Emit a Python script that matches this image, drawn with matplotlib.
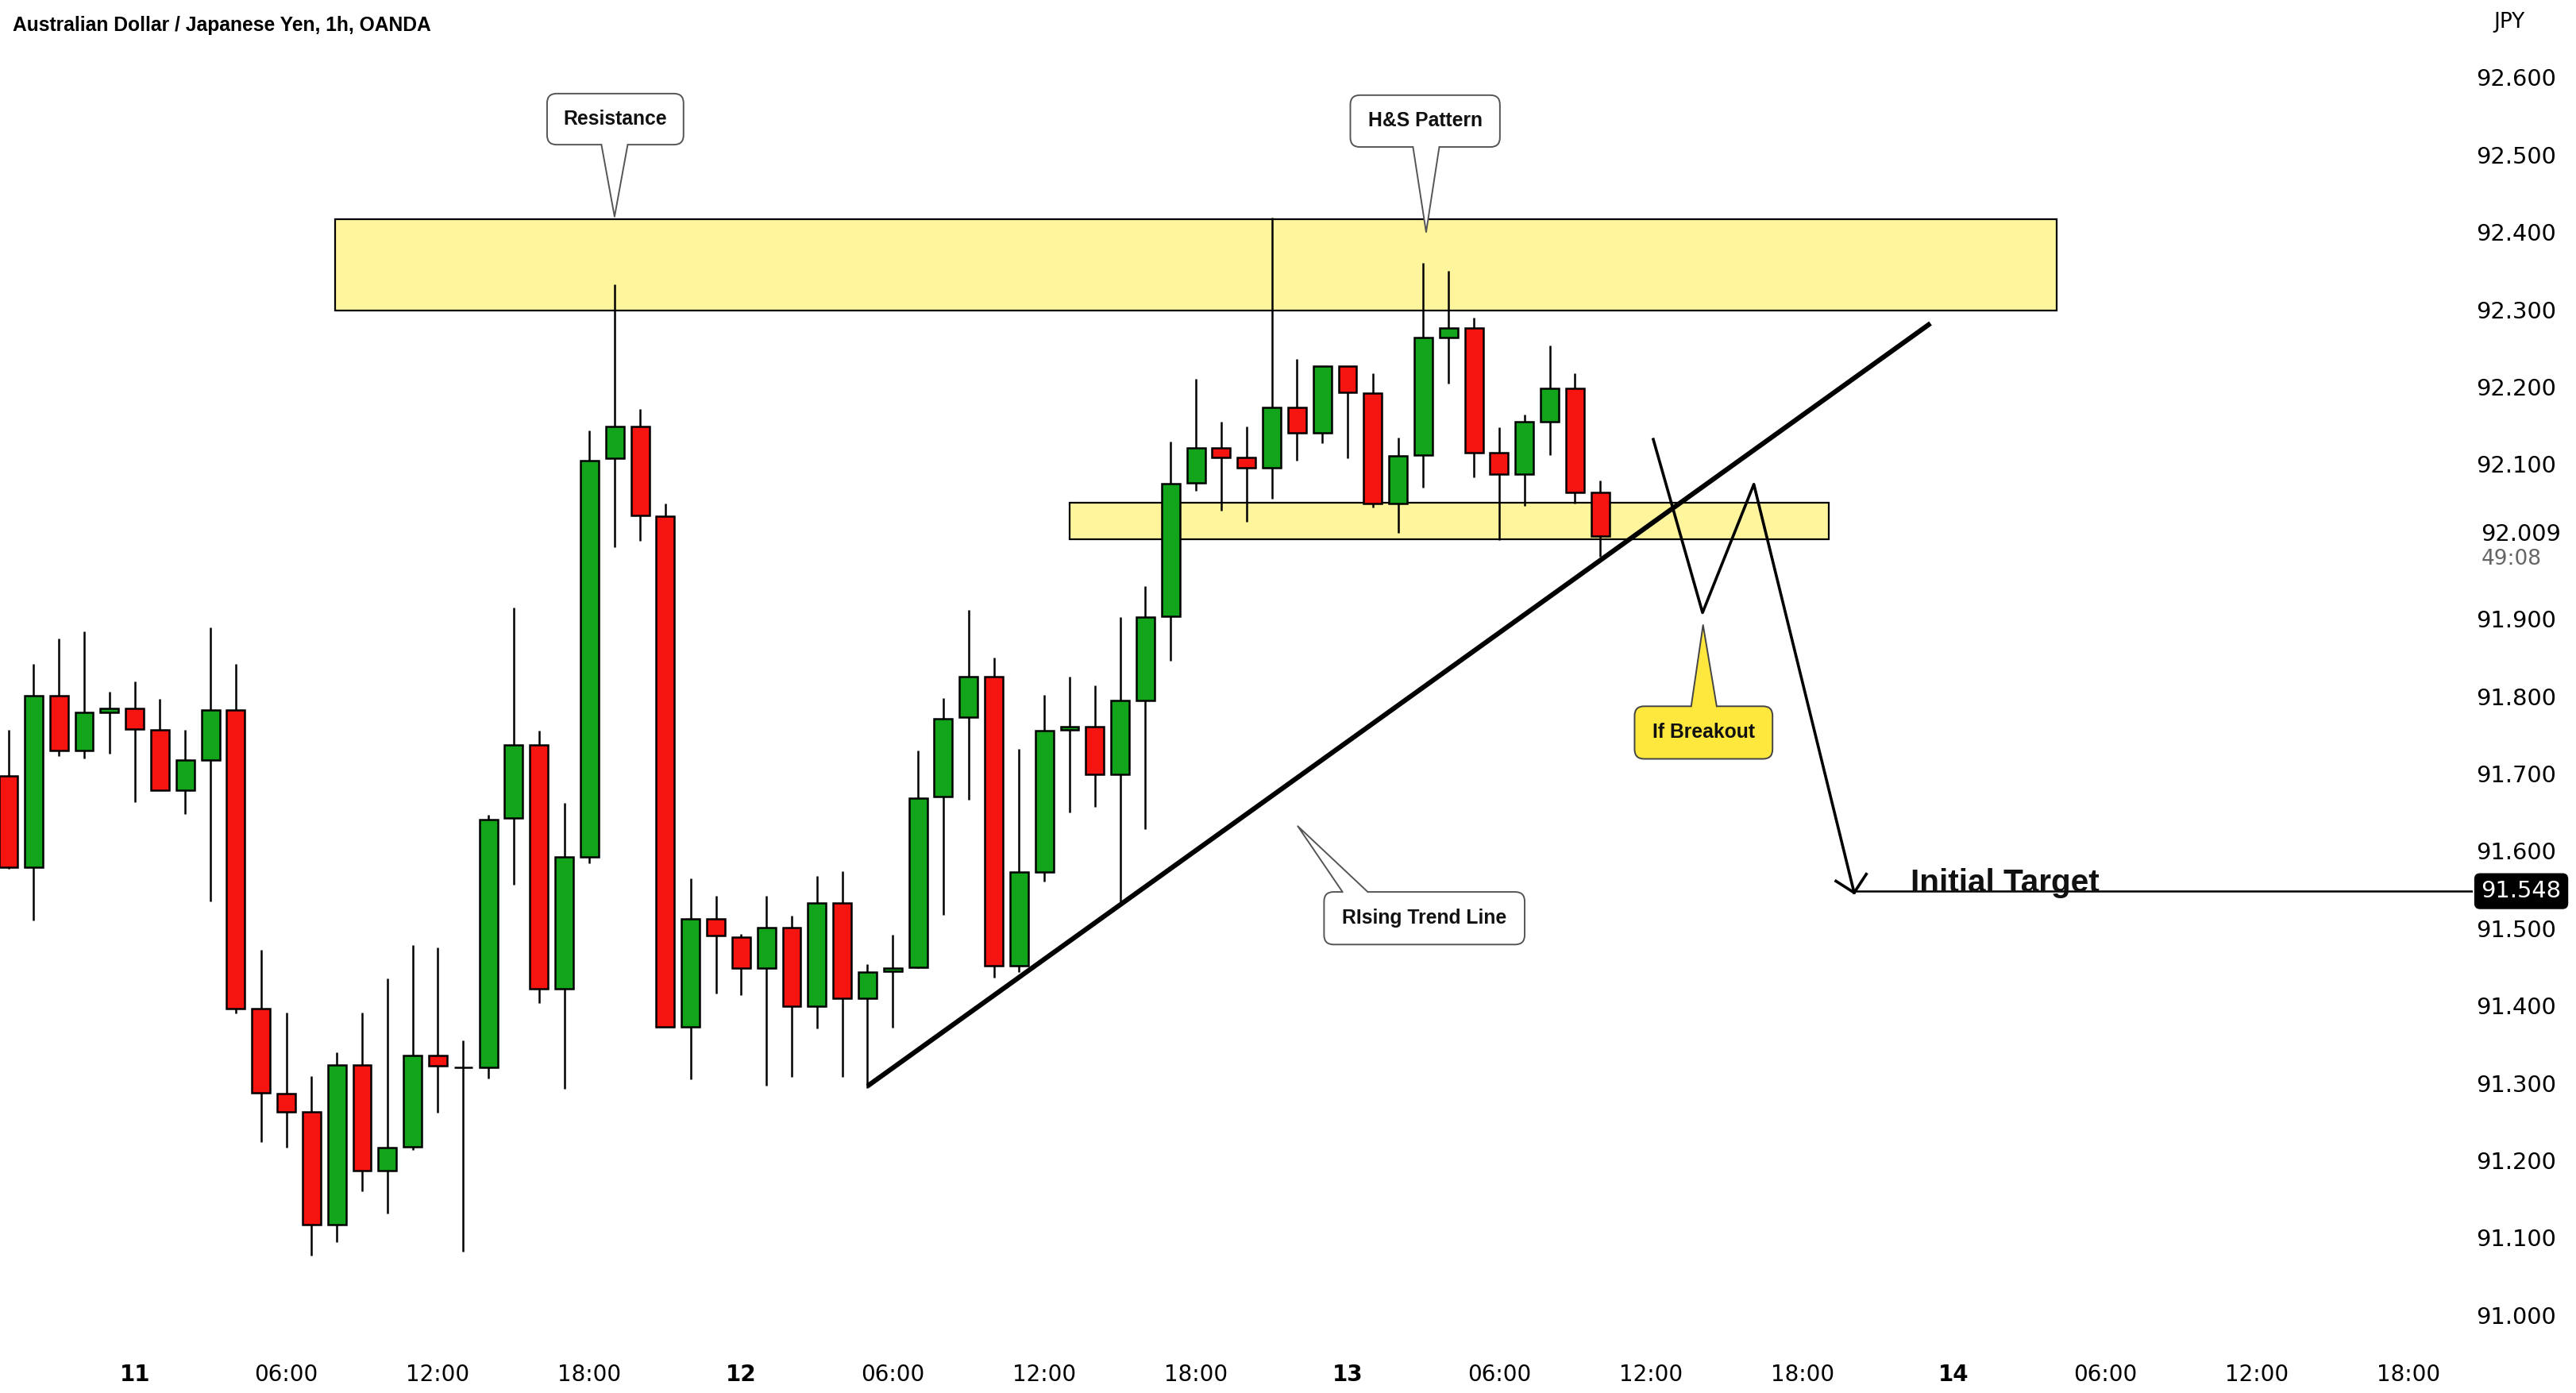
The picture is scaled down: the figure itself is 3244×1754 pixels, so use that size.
import matplotlib
matplotlib.use("Agg")
import matplotlib.pyplot as plt
from matplotlib.patches import Rectangle, FancyBboxPatch, Polygon
import numpy as np

# hourly candles, x = hours since day "11" 00:00
hours = list(range(-5, 59))
opens = [91.697, 91.579, 91.801, 91.730, 91.779, 91.784, 91.757, 91.678, 91.718, 91.782,
         91.396, 91.286, 91.263, 91.117, 91.323, 91.187, 91.218, 91.336, 91.320, 91.320,
         91.643, 91.737, 91.422, 91.592, 92.108, 92.149, 92.033, 91.373, 91.512, 91.489,
         91.448, 91.501, 91.399, 91.533, 91.409, 91.444, 91.450, 91.670, 91.773, 91.825,
         91.452, 91.573, 91.756, 91.761, 91.699, 91.795, 91.903, 92.076, 92.121, 92.109,
         92.095, 92.173, 92.140, 92.227, 92.192, 92.049, 92.112, 92.264, 92.276, 92.115,
         92.087, 92.155, 92.198, 92.063]
highs = [91.757, 91.842, 91.875, 91.884, 91.806, 91.819, 91.797, 91.756, 91.889, 91.842,
         91.472, 91.391, 91.309, 91.340, 91.391, 91.435, 91.478, 91.475, 91.355, 91.647,
         91.915, 91.755, 91.662, 92.144, 92.332, 92.171, 92.049, 91.565, 91.542, 91.493,
         91.542, 91.516, 91.568, 91.574, 91.454, 91.492, 91.730, 91.798, 91.912, 91.850,
         91.732, 91.802, 91.825, 91.814, 91.902, 91.942, 92.129, 92.210, 92.155, 92.149,
         92.419, 92.236, 92.227, 92.227, 92.217, 92.134, 92.360, 92.350, 92.289, 92.148,
         92.164, 92.253, 92.217, 92.079]
lows = [91.577, 91.510, 91.723, 91.720, 91.726, 91.663, 91.678, 91.648, 91.535, 91.390,
        91.224, 91.217, 91.077, 91.094, 91.160, 91.131, 91.213, 91.262, 91.082, 91.306,
        91.556, 91.403, 91.292, 91.584, 91.993, 92.001, 91.373, 91.305, 91.416, 91.414,
        91.297, 91.308, 91.370, 91.308, 91.294, 91.371, 91.449, 91.517, 91.666, 91.436,
        91.443, 91.560, 91.650, 91.657, 91.532, 91.628, 91.846, 92.066, 92.040, 92.025,
        92.055, 92.105, 92.127, 92.108, 92.044, 92.011, 92.070, 92.204, 92.083, 92.002,
        92.046, 92.112, 92.049, 91.980]
closes = [91.579, 91.801, 91.730, 91.779, 91.784, 91.758, 91.678, 91.717, 91.782, 91.396,
          91.287, 91.263, 91.117, 91.323, 91.187, 91.217, 91.336, 91.322, 91.320, 91.641,
          91.737, 91.422, 91.592, 92.105, 92.149, 92.034, 91.373, 91.512, 91.491, 91.448,
          91.501, 91.399, 91.533, 91.409, 91.443, 91.449, 91.668, 91.771, 91.825, 91.452,
          91.573, 91.755, 91.761, 91.699, 91.795, 91.902, 92.075, 92.121, 92.109, 92.095,
          92.173, 92.140, 92.227, 92.193, 92.049, 92.111, 92.264, 92.276, 92.115, 92.087,
          92.155, 92.198, 92.063, 92.007]

tick_hours = [0, 6, 12, 18, 24, 30, 36, 42, 48, 54, 60, 66, 72, 78, 84, 90]
tick_labels = ["11", "06:00", "12:00", "18:00", "12", "06:00", "12:00", "18:00",
               "13", "06:00", "12:00", "18:00", "14", "06:00", "12:00", "18:00"]
price_ticks = [91.0, 91.1, 91.2, 91.3, 91.4, 91.5, 91.6, 91.7, 91.8, 91.9,
               92.1, 92.2, 92.3, 92.4, 92.5, 92.6]

last_price = 92.009
target_price = 91.548

# drawings (hours, price)
resistance_zone = (7.93, 76.07, 92.299, 92.417)
neckline_zone = (37.0, 67.03, 92.003, 92.050)
trend_x = [29.0, 71.07]
trend_y = [91.296, 92.282]
path_x = [60.1, 62.05, 64.08, 68.05]
path_y = [92.132, 91.908, 92.074, 91.546]

GREEN = "#12A51B"
RED = "#F5140F"
ZONE = "#FFF59D"

W, H, DPI = 3244, 1754, 200
fig = plt.figure(figsize=(W / DPI, H / DPI), dpi=DPI, facecolor="white")
ax = fig.add_axes([0, 0.0354, 0.9598, 0.9646])
ax.set_xlim(-5.332, 92.52)
ax.set_ylim(90.963, 92.700)
for s in ax.spines.values():
    s.set_visible(False)

# zones
for x0, x1, y0, y1 in [resistance_zone, neckline_zone]:
    ax.add_patch(Rectangle((x0, y0), x1 - x0, y1 - y0, facecolor=ZONE,
                           edgecolor="black", linewidth=0.8, zorder=1))

# candles
o = np.array(opens)
c = np.array(closes)
colors = np.where(c >= o, GREEN, RED)
ax.vlines(hours, lows, highs, color="black", linewidth=0.9, zorder=3)
ax.bar(hours, np.abs(c - o), bottom=np.minimum(o, c), width=0.72, color=colors,
       edgecolor="black", linewidth=0.9, zorder=4)

# trend line and projected path
ax.plot(trend_x, trend_y, color="black", linewidth=2.2, solid_capstyle="butt", zorder=5)
ax.plot(path_x, path_y, color="black", linewidth=1.3, zorder=5)
ax.plot([67.33, path_x[-1], 68.53], [91.561, path_y[-1], 91.570], color="black",
        linewidth=1.3, zorder=5)
ax.plot([path_x[-1], 92.52], [target_price, target_price], color="black",
        linewidth=0.9, zorder=5)
ax.text(70.29, 91.547, "Initial Target", fontsize=14.6, fontweight="bold",
        family="Liberation Sans", color="#111111", va="baseline", zorder=6)

# callouts
p0 = ax.transData.transform((0, 0))
p1 = ax.transData.transform((1, 1))
px_x = p1[0] - p0[0]
px_y = p1[1] - p0[1]


def callout(box, text, base, tip, face, edge, side="bottom"):
    x0, x1, y0, y1 = box
    r = 12 / px_x
    ax.add_patch(FancyBboxPatch((x0, y0), x1 - x0, y1 - y0,
                                boxstyle=f"round,pad=0,rounding_size={r}",
                                mutation_aspect=px_x / px_y,
                                facecolor=face, edgecolor=edge, linewidth=0.7, zorder=7))
    yb = y0 if side == "bottom" else y1
    eps = 3 / px_y * (1 if side == "bottom" else -1)
    ax.add_patch(Polygon([(base[0], yb + eps), (base[1], yb + eps), (base[1], yb), tip,
                          (base[0], yb)], closed=True, facecolor=face,
                         edgecolor="none", zorder=8))
    ax.plot([base[0], tip[0], base[1]], [yb, tip[1], yb], color=edge, linewidth=0.7,
            zorder=8)
    ax.text((x0 + x1) / 2, (y0 + y1) / 2, text, ha="center", va="center",
            fontsize=8.9, fontweight="bold", family="Liberation Sans", color="#111111",
            zorder=9)


callout((16.32, 21.72, 92.513, 92.579), "Resistance", (18.47, 19.51), (18.99, 92.420),
        "white", "#555555")
callout((48.11, 54.03, 92.510, 92.577), "H&S Pattern", (50.59, 51.63), (51.11, 92.400),
        "white", "#555555")
callout((59.36, 64.82, 91.719, 91.787), "If Breakout", (61.60, 62.61), (62.07, 91.892),
        "#FFE83D", "#444444", side="top")
callout((47.07, 55.01, 91.479, 91.547), "RIsing Trend Line", (47.8, 48.8), (46.03, 91.632),
        "white", "#555555", side="top")

# axes labels
ax.set_xticks(tick_hours)
ax.set_xticklabels(tick_labels, fontsize=10)
for lab in ax.get_xticklabels():
    if ":" not in lab.get_text():
        lab.set_fontweight("bold")
ax.tick_params(axis="x", length=0, pad=9)
ax.yaxis.tick_right()
ax.set_yticks(price_ticks)
ax.set_yticklabels([f"{p:.3f}" for p in price_ticks], fontsize=10.4)
ax.tick_params(axis="y", length=0, pad=1.5)

yl = ax.get_yaxis_transform()
ax.text(1.0035, last_price, f"{last_price:.3f}", transform=yl, fontsize=10.4,
        va="center", ha="left")
ax.text(1.0035, 91.977, "49:08", transform=yl, fontsize=9.5, color="#666666",
        va="center", ha="left")
ax.text(1.0035, target_price, f"{target_price:.3f}", transform=yl, fontsize=10.4,
        va="center", ha="left", color="white",
        bbox=dict(boxstyle="round,pad=0.25,rounding_size=0.2", facecolor="black",
                  edgecolor="black"))
ax.text(1.0086, 92.671, "JPY", transform=yl, fontsize=9.5, va="center", ha="left")

fig.text(0.005, 0.982, "Australian Dollar / Japanese Yen, 1h, OANDA", fontsize=8.85,
         fontweight="bold", family="Liberation Sans", va="center", ha="left")

fig.savefig("out.png", dpi=DPI, facecolor="white")
